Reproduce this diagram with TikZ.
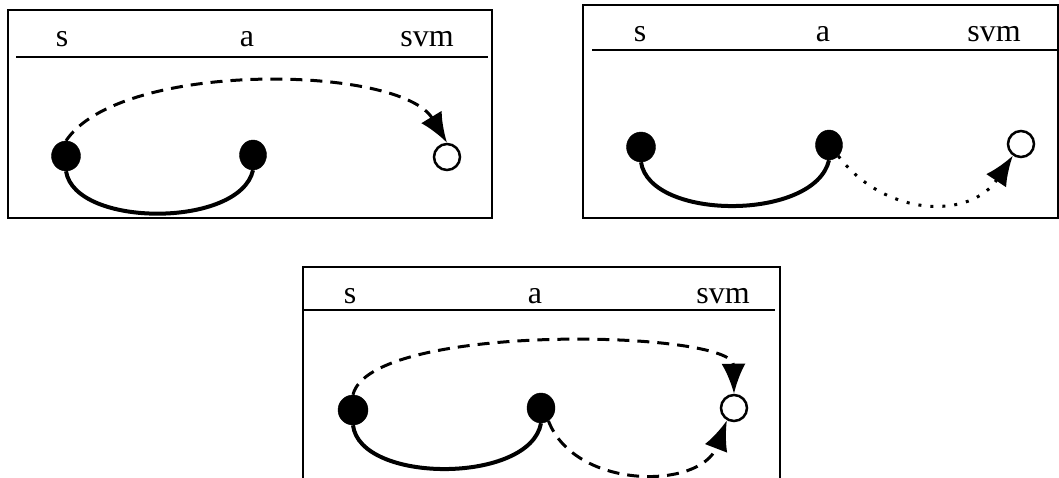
\documentclass[tikz,border=0pt]{standalone}
\usepackage{fontspec}
\setmainfont{Liberation Serif}
\usetikzlibrary{arrows.meta,shapes.geometric}
\begin{document}
\begin{tikzpicture}[x=1pt,y=-1pt,
  frame/.style={line width=2.5pt},
  hdr/.style={line width=2.5pt},
  lbl/.style={anchor=base,font=\fontsize{32}{36}\selectfont,inner sep=0pt},
  full/.style={fill=black,draw=black,ellipse,minimum width=#1,minimum height=30pt,inner sep=0pt},
  empty/.style={draw=black,circle,line width=2.5pt,minimum size=26pt,inner sep=0pt},
  solidarc/.style={line width=4pt},
  tip/.style={-{Latex[length=30pt,width=24pt]}},
  dasharc/.style={line width=3pt,dash pattern=on 12pt off 8pt,tip},
  dotarc/.style={line width=3pt,dash pattern=on 3pt off 9pt,tip}]
\useasboundingbox (0,0) rectangle (1059,478);
% ---------- panel 1 ----------
\draw[frame] (8,10) rectangle (492,218);
\draw[hdr] (16,57) -- (488,57);
\node[lbl] (l1s) at (62,47) {s};
\node[lbl] (l1a) at (247,47) {a};
\node[lbl] (l1v) at (427,47) {svm};
\node[full=29pt] (s1) at (66,156) {};
\node[full=27pt] (a1) at (253,155) {};
\node[empty] (v1) at (447,157) {};
\draw[solidarc] (s1.south) .. controls (75,228) and (240,228) .. (a1.south);
\draw[dasharc] (s1.north) .. controls (120,60) and (400,65) .. (v1.north);
% ---------- panel 2 ----------
\draw[frame] (583,5) rectangle (1058,218);
\draw[hdr] (592,50) -- (1058,50);
\node[lbl] (l2s) at (640,42) {s};
\node[lbl] (l2a) at (823,42) {a};
\node[lbl] (l2v) at (994,42) {svm};
\node[full=29pt] (s2) at (641,147) {};
\node[full=27pt] (a2) at (829,145) {};
\node[empty] (v2) at (1021,144) {};
\draw[solidarc] (s2.south) .. controls (650,221) and (815,221) .. (a2.south);
\draw[dotarc] (a2.-50) .. controls (885,217) and (970,220) .. (v2.-125);
% ---------- panel 3 ----------
\draw[frame] (303,480) -- (303,267) -- (780,267) -- (780,480);
\draw[hdr] (303,310) -- (775,310);
\node[lbl] (l3s) at (350,303) {s};
\node[lbl] (l3a) at (535,303) {a};
\node[lbl] (l3v) at (723,303) {svm};
\node[full=30pt] (s3) at (353,410) {};
\node[full=28pt] (a3) at (541,408) {};
\node[empty] (v3) at (734,408) {};
\draw[solidarc] (s3.south) .. controls (360,484) and (530,484) .. (a3.south);
\draw[dasharc] (s3.north) .. controls (370,322) and (733,330) .. (v3.north);
\draw[dasharc] (a3.-60) .. controls (575,490) and (700,490) .. (v3.-120);
\end{tikzpicture}
\end{document}
